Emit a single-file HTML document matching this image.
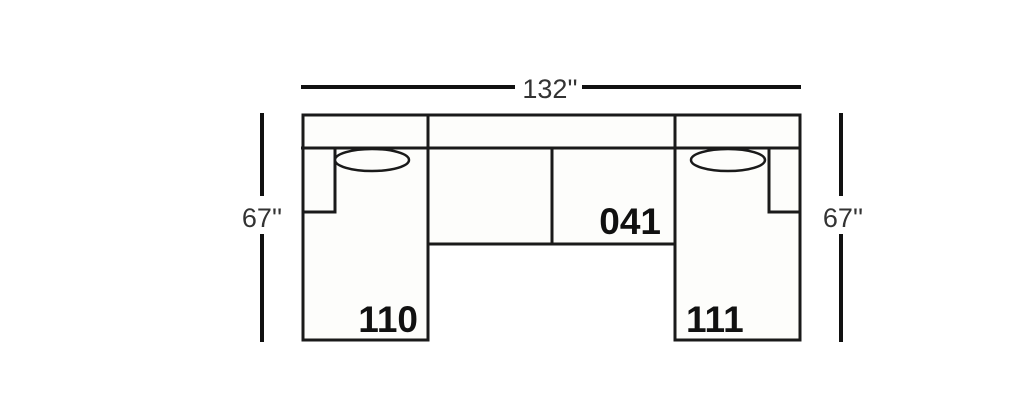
<!DOCTYPE html>
<html><head><style>body{margin:0;background:#fff}</style></head><body>
<svg width="1024" height="410" viewBox="0 0 1024 410" xmlns="http://www.w3.org/2000/svg">
<rect width="1024" height="410" fill="#fff"/>
<g stroke="#111" stroke-width="4" fill="none">
<line x1="301" y1="87" x2="515" y2="87"/>
<line x1="582" y1="87" x2="801" y2="87"/>
<line x1="262" y1="113" x2="262" y2="196"/>
<line x1="262" y1="234" x2="262" y2="342"/>
<line x1="841" y1="113" x2="841" y2="196"/>
<line x1="841" y1="234" x2="841" y2="342"/>
</g>
<g stroke="#1a1a1a" stroke-width="3" fill="#fdfdfb">
<rect x="303" y="115" width="125" height="225"/>
<rect x="675" y="115" width="125" height="225"/>
<rect x="428" y="115" width="247" height="129"/>
<line x1="301" y1="148" x2="800" y2="148"/>
<line x1="552" y1="148" x2="552" y2="244"/>
<polyline points="335,148 335,212 303,212" fill="none"/>
<polyline points="769,148 769,212 800,212" fill="none"/>
<ellipse cx="372" cy="160" rx="37" ry="11" stroke-width="2.5"/>
<ellipse cx="728" cy="160" rx="37" ry="11" stroke-width="2.5"/>
</g>
<g font-family="Liberation Sans, sans-serif" fill="#111">
<text x="550" y="98" font-size="27" text-anchor="middle" fill="#333">132''</text>
<text x="262" y="227" font-size="27" text-anchor="middle" fill="#333">67''</text>
<text x="843" y="227" font-size="27" text-anchor="middle" fill="#333">67''</text>
<g font-weight="bold" font-size="37">
<text x="418" y="332" text-anchor="end">110</text>
<text x="661" y="234" text-anchor="end">041</text>
<text x="686" y="332">111</text>
</g>
</g>
</svg>
</body></html>
